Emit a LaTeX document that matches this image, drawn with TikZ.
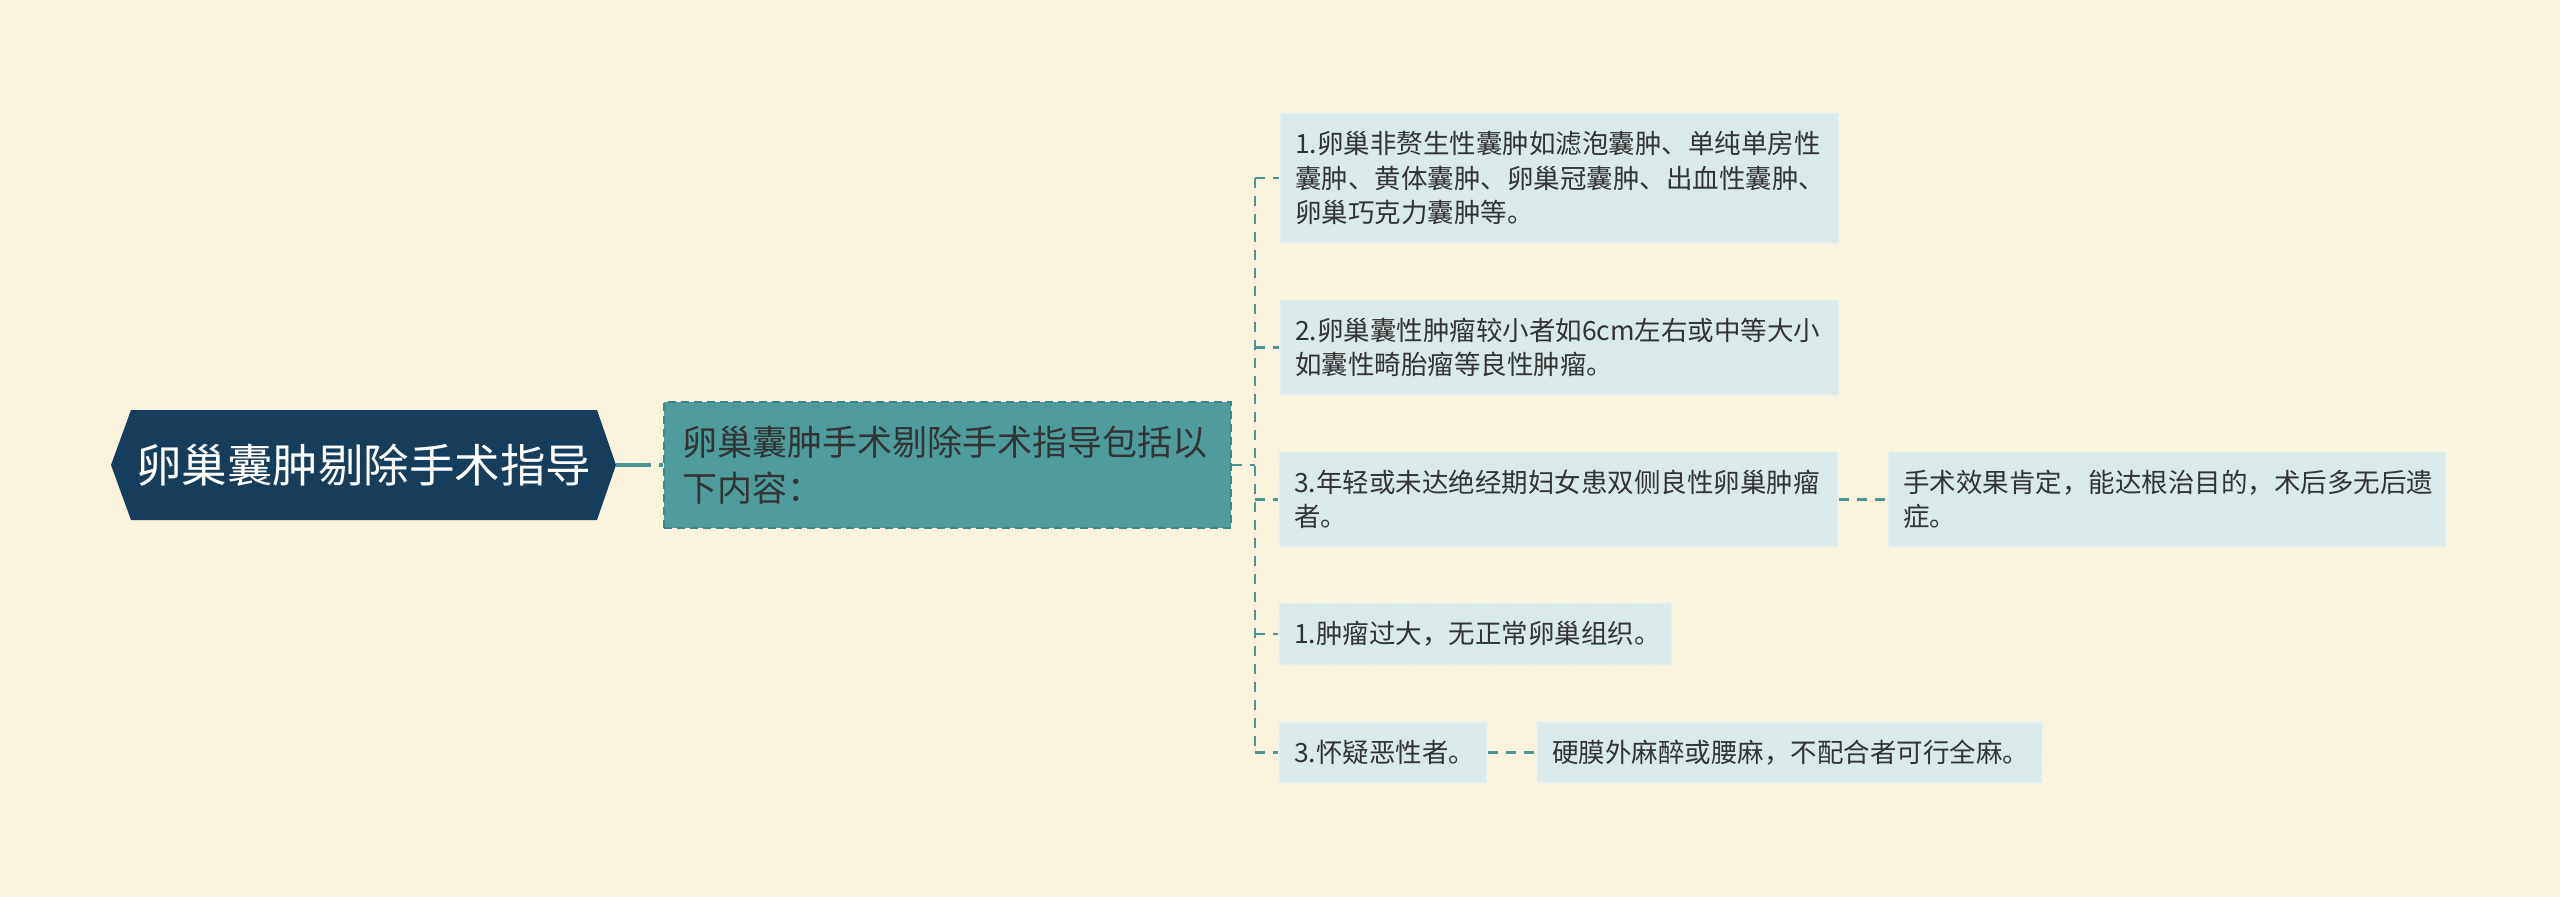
\documentclass[tikz,border=0pt]{standalone}
\usepackage{fontspec}
\newfontfamily\cjk{Noto Sans CJK SC}
\definecolor{bg}{HTML}{FAF4DF}
\definecolor{rootfill}{HTML}{173D5C}
\definecolor{midfill}{HTML}{4E9C9C}
\definecolor{midborder}{HTML}{3C8787}
\definecolor{leaffill}{HTML}{DAEAEA}
\definecolor{leafborder}{HTML}{E9F2EE}
\definecolor{conncol}{HTML}{4E9494}
\definecolor{txt}{HTML}{333333}
\begin{document}
\begin{tikzpicture}[x=1pt,y=-1pt,
  leaf/.style={draw=leafborder, dash pattern=on 6pt off 4pt, line width=1.5pt,
    fill=leaffill, text=txt, font=\cjk\fontsize{26.5}{34.5}\selectfont,
    align=left, inner xsep=15pt, inner ysep=0pt, anchor=center},
  conn/.style={draw=conncol, line width=2.2pt, dash pattern=on 10pt off 8pt},
  rootconn/.style={draw=conncol, line width=3.5pt, dash pattern=on 35pt off 8pt}]
\useasboundingbox[fill=bg] (0,0) rectangle (2560,897);

% root
\node[minimum width=505pt, minimum height=110pt, inner sep=0pt, text=white,
  font=\cjk\fontsize{45.5}{54}\selectfont,
  path picture={\fill[rootfill] (path picture bounding box.west)
     -- ([xshift=20pt]path picture bounding box.north west)
     -- ([xshift=-19pt]path picture bounding box.north east)
     -- (path picture bounding box.east)
     -- ([xshift=-19pt]path picture bounding box.south east)
     -- ([xshift=20pt]path picture bounding box.south west) -- cycle;}]
  (root) at (363.5,465) {卵巢囊肿剔除手术指导};

% middle
\node[draw=midborder, dash pattern=on 8pt off 5pt, line width=2pt, fill=midfill,
  text=txt, font=\cjk\fontsize{35}{46}\selectfont, align=left,
  minimum width=567pt, text width=531pt, minimum height=126pt,
  inner xsep=18pt, inner ysep=0pt]
  (mid) at (947.5,465) {卵巢囊肿手术剔除手术指导包括以\\下内容：};

% leaves
\node[leaf, minimum width=559pt, text width=529pt, minimum height=130pt]
  (A) at (1559.5,178) {1.卵巢非赘生性囊肿如滤泡囊肿、单纯单房性\\囊肿、黄体囊肿、卵巢冠囊肿、出血性囊肿、\\卵巢巧克力囊肿等。};
\node[leaf, minimum width=559pt, text width=529pt, minimum height=95pt]
  (B) at (1559.5,347.5) {2.卵巢囊性肿瘤较小者如6cm左右或中等大小\\如囊性畸胎瘤等良性肿瘤。};
\node[leaf, minimum width=559pt, text width=529pt, minimum height=95pt]
  (C) at (1558.5,499.5) {3.年轻或未达绝经期妇女患双侧良性卵巢肿瘤\\者。};
\node[leaf, minimum width=558pt, text width=528pt, minimum height=95pt]
  (C2) at (2167,499.5) {手术效果肯定，能达根治目的，术后多无后遗\\症。};
\node[leaf, minimum width=393pt, text width=363pt, minimum height=62pt]
  (D) at (1475.5,634) {1.肿瘤过大，无正常卵巢组织。};
\node[leaf, minimum width=208pt, text width=178pt, minimum height=61pt]
  (E) at (1383,752.5) {3.怀疑恶性者。};
\node[leaf, minimum width=505pt, text width=475pt, minimum height=61pt]
  (E2) at (1789.5,752.5) {硬膜外麻醉或腰麻，不配合者可行全麻。};

% connectors
\coordinate (trunk) at (1255,465);
\draw[rootconn] (root.east) -- (mid.west);
\draw[conn] (mid.east) -- (trunk);
\draw[conn] (trunk |- A.west) -- (trunk |- E.west);
\draw[conn] (trunk |- A.west) -- (A.west);
\draw[conn] (trunk |- B.west) -- (B.west);
\draw[conn] (trunk |- C.west) -- (C.west);
\draw[conn] (trunk |- D.west) -- (D.west);
\draw[conn] (trunk |- E.west) -- (E.west);
\draw[conn] (C.east) -- (C2.west);
\draw[conn] (E.east) -- (E2.west);
\end{tikzpicture}
\end{document}
